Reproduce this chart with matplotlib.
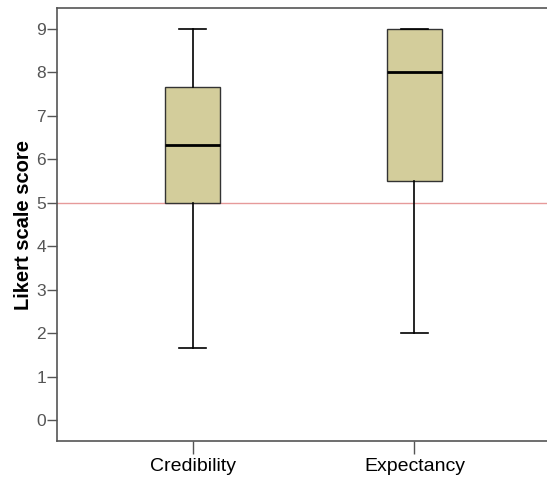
import matplotlib.pyplot as plt
import numpy as np

plt.rcParams['font.family'] = ['Liberation Sans', 'DejaVu Sans']

# box statistics
groups = ['Credibility', 'Expectancy']
whislo = [1.67, 2.0]
q1 = [5.0, 5.5]
medians = [6.33, 8.0]
q3 = [7.67, 9.0]
whishi = [9.0, 9.0]
reference_score = 5

stats = []
for i, name in enumerate(groups):
    stats.append({'label': name, 'whislo': whislo[i], 'q1': q1[i],
                  'med': medians[i], 'q3': q3[i], 'whishi': whishi[i],
                  'fliers': []})

fig = plt.figure(figsize=(5.47, 4.79), dpi=100)
ax = fig.add_axes([0.1042, 0.0793, 0.9013, 0.904])

ax.axhline(reference_score, color='#e69a9a', linewidth=1.0, zorder=1)

ax.bxp(stats, positions=[1, 2], widths=0.25, patch_artist=True,
       showfliers=False,
       boxprops=dict(facecolor='#d3cd9b', edgecolor='#333333', linewidth=1.0),
       medianprops=dict(color='black', linewidth=2.0),
       whiskerprops=dict(color='black', linewidth=1.2),
       capprops=dict(color='black', linewidth=1.2),
       capwidths=0.125, zorder=2)

ax.set_xlim(0.389, 2.611)
ax.set_ylim(-0.48, 9.48)
ax.set_yticks(np.arange(0, 10))
ax.set_xticks([1, 2])
ax.set_xticklabels(groups, fontsize=14)
ax.tick_params(axis='y', labelsize=12.5, labelcolor='#555555', length=7,
               width=1, color='#555555', pad=1)
ax.tick_params(axis='x', length=9, width=1, color='#555555', pad=3)
for s in ax.spines.values():
    s.set_color('#555555')
    s.set_linewidth(1.2)

ax.set_ylabel('Likert scale score', fontsize=14.5, fontweight='bold', labelpad=2)

fig.savefig('out.png', dpi=100)
